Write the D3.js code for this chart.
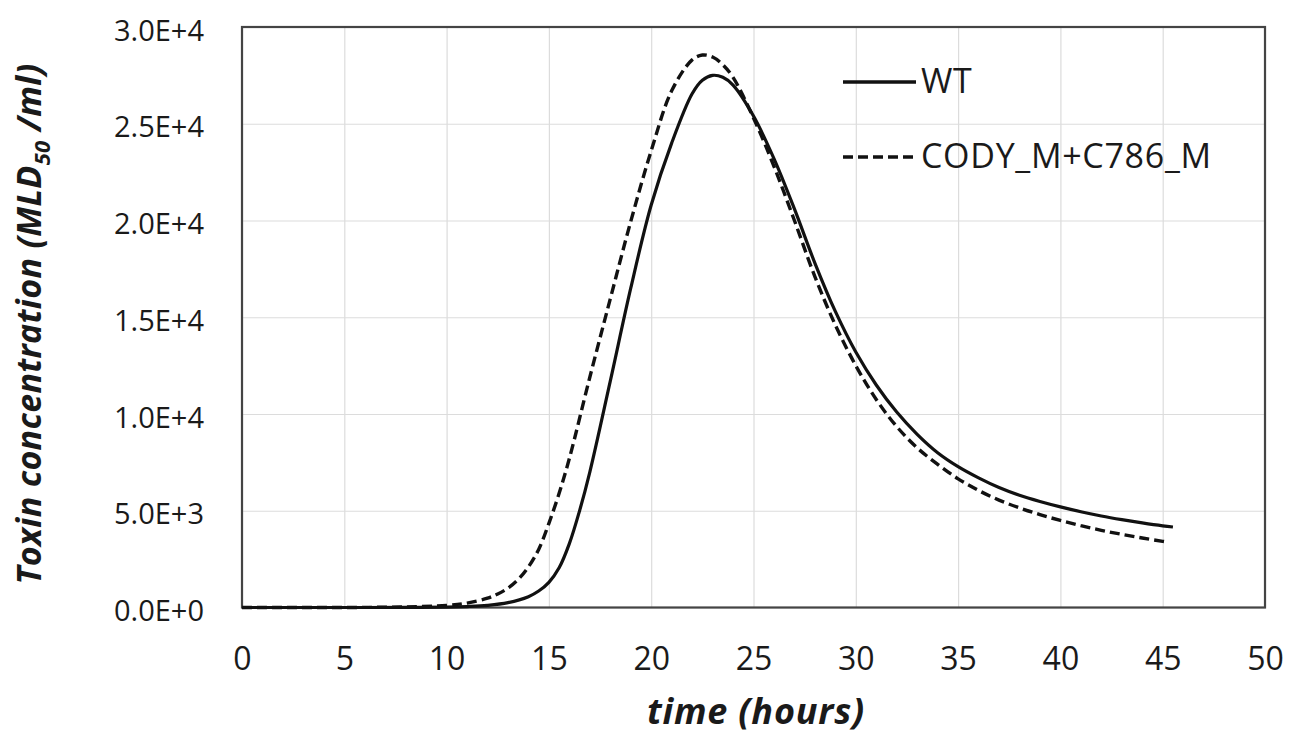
<!DOCTYPE html>
<html>
<head>
<meta charset="utf-8">
<script src="https://cdn.jsdelivr.net/npm/d3@7"></script>
<style>
  html, body { margin: 0; padding: 0; background: #fff; }
  svg { display: block; }
  text { font-family: "Open Sans", sans-serif; fill: #1a1a1a; }
</style>
</head>
<body>
<svg id="chart" width="1304" height="738"></svg>
<script>
// ---- data ----
const time = [0, 2, 4, 6, 8, 10, 11, 12, 13, 14, 14.5, 15, 15.5, 16, 16.5, 17, 18, 19, 20, 21, 22, 22.5, 23, 23.5, 24, 25, 26, 27, 28, 29, 30, 31, 32, 33, 34, 35, 36, 37, 38, 39, 40, 41, 42, 43, 44, 45, 45.5];
const wt = [0, 0, 0, 1, 5, 20, 50, 110, 250, 560, 850, 1300, 2050, 3300, 5000, 7000, 11700, 16500, 20800, 24000, 26550, 27250, 27500, 27400, 27000, 25400, 23200, 20600, 17800, 15300, 13200, 11500, 10100, 8950, 8000, 7280, 6700, 6200, 5800, 5480, 5200, 4950, 4730, 4540, 4370, 4220, 4160];
const codyTime = [0, 2, 4, 6, 8, 10, 11, 12, 12.5, 13, 13.5, 14, 14.5, 15, 15.5, 16, 17, 18, 19, 20, 21, 22, 22.5, 23, 23.5, 24, 25, 26, 27, 28, 29, 30, 31, 32, 33, 34, 35, 36, 37, 38, 39, 40, 41, 42, 43, 44, 45, 45.3];
const cody = [0, 0, 1, 5, 30, 110, 230, 480, 700, 1000, 1450, 2100, 3000, 4350, 5900, 7700, 11900, 15950, 19950, 23600, 26700, 28300, 28550, 28450, 28050, 27400, 25300, 22800, 20000, 17100, 14600, 12500, 10750, 9350, 8250, 7400, 6650, 6050, 5550, 5150, 4800, 4500, 4230, 3990, 3780, 3590, 3420, 3370];
const xTicks = [0, 5, 10, 15, 20, 25, 30, 35, 40, 45, 50];
const yTicks = [0, 5000, 10000, 15000, 20000, 25000, 30000];
const yTickLabels = ["0.0E+0", "5.0E+3", "1.0E+4", "1.5E+4", "2.0E+4", "2.5E+4", "3.0E+4"];
const seriesNames = ["WT", "CODY_M+C786_M"];

// ---- layout ----
const svg = d3.select("#chart");
const pLeft = 242, pRight = 1265, pTop = 27, pBottom = 607.5;
const x = d3.scaleLinear().domain([0, 50]).range([pLeft, pRight]);
const y = d3.scaleLinear().domain([0, 30000]).range([pBottom, pTop]);

// gridlines
svg.append("g")
  .attr("transform", `translate(0,${pBottom})`)
  .call(d3.axisBottom(x).tickValues(xTicks).tickSize(-(pBottom - pTop)).tickFormat(""))
  .call(g => g.select(".domain").remove())
  .call(g => g.selectAll("line").attr("stroke", "#dcdcdc").attr("stroke-width", 1.2));
svg.append("g")
  .attr("transform", `translate(${pLeft},0)`)
  .call(d3.axisLeft(y).tickValues(yTicks).tickSize(-(pRight - pLeft)).tickFormat(""))
  .call(g => g.select(".domain").remove())
  .call(g => g.selectAll("line").attr("stroke", "#dcdcdc").attr("stroke-width", 1.2));

// tick labels
const xAxis = svg.append("g")
  .attr("transform", `translate(0,${pBottom})`)
  .call(d3.axisBottom(x).tickValues(xTicks).tickSize(0).tickPadding(40).tickFormat(d3.format("d")));
xAxis.select(".domain").remove();
xAxis.selectAll("text").attr("font-size", 32).attr("font-family", "Open Sans, sans-serif").attr("fill", "#1a1a1a");

const yAxis = svg.append("g")
  .attr("transform", `translate(${pLeft},0)`)
  .call(d3.axisLeft(y).tickValues(yTicks).tickSize(0).tickPadding(38).tickFormat((d, i) => yTickLabels[i]));
yAxis.select(".domain").remove();
yAxis.selectAll("text").attr("font-size", 29).attr("dy", "0.45em").attr("font-family", "Open Sans, sans-serif").attr("fill", "#1a1a1a");

// plot border
svg.append("rect")
  .attr("x", pLeft).attr("y", pTop)
  .attr("width", pRight - pLeft).attr("height", pBottom - pTop)
  .attr("fill", "none").attr("stroke", "#444").attr("stroke-width", 2.2);

// lines
const lineGen = (ts) => d3.line().x((d, i) => x(ts[i])).y(d => y(d)).curve(d3.curveCatmullRom.alpha(0.5));
svg.append("path").datum(cody)
  .attr("d", lineGen(codyTime))
  .attr("fill", "none").attr("stroke", "#111").attr("stroke-width", 3.4)
  .attr("stroke-dasharray", "10,5");
svg.append("path").datum(wt)
  .attr("d", lineGen(time))
  .attr("fill", "none").attr("stroke", "#111").attr("stroke-width", 3.2);

// legend
const leg = svg.append("g");
seriesNames.forEach((name, i) => {
  const ly = 82 + i * 75;
  leg.append("line")
    .attr("x1", 843).attr("x2", 916).attr("y1", ly).attr("y2", ly)
    .attr("stroke", "#111").attr("stroke-width", 3.4)
    .attr("stroke-dasharray", i === 1 ? "10,5" : null);
  leg.append("text")
    .attr("x", 921).attr("y", ly + 11)
    .attr("font-size", 34).attr("letter-spacing", 0.7)
    .text(name);
});

// axis titles
svg.append("text")
  .attr("x", 756).attr("y", 724)
  .attr("text-anchor", "middle")
  .attr("font-size", 36).attr("letter-spacing", 0.8).attr("font-weight", "bold").attr("font-style", "italic")
  .text("time (hours)");

const yt = svg.append("text")
  .attr("transform", `translate(41,324) rotate(-90)`)
  .attr("text-anchor", "middle")
  .attr("font-size", 34).attr("letter-spacing", 0.3).attr("font-weight", "bold").attr("font-style", "italic");
yt.append("tspan").text("Toxin concentration (MLD");
yt.append("tspan").attr("font-size", 22).attr("dy", 9).text("50");
yt.append("tspan").attr("dy", -9).text(" /ml)");
</script>
</body>
</html>
